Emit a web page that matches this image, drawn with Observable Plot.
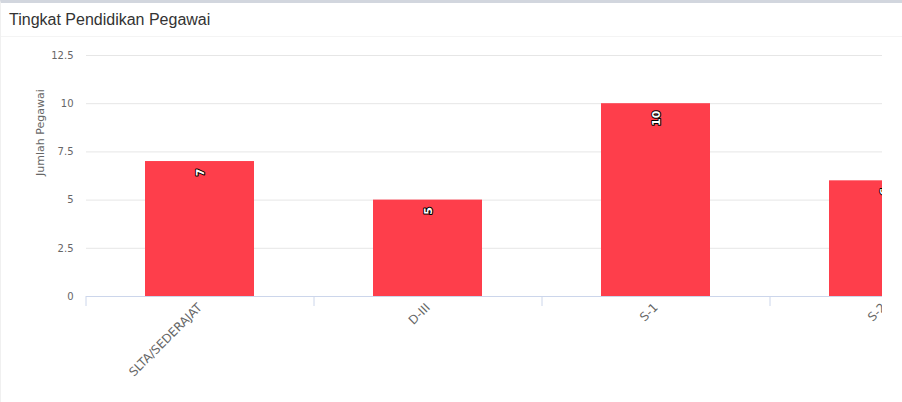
<!DOCTYPE html>
<html>
<head>
<meta charset="utf-8">
<script src="https://cdn.jsdelivr.net/npm/d3@7"></script>
<script src="https://cdn.jsdelivr.net/npm/@observablehq/plot@0.6"></script>
<style>
  html, body { margin: 0; padding: 0; background: #fff; }
  .box { width: 902px; height: 402px; box-sizing: border-box; border-top: 3px solid #d2d6de; border-left: 1px solid #f0f0f0; overflow: hidden; position: relative; }
  .hdr { height: 34px; box-sizing: border-box; border-bottom: 1px solid #f4f4f4; padding: 0 0 0 8px; font-family: "Liberation Sans", Arial, sans-serif; font-size: 16px; color: #333; line-height: 34px; }
  .chartwrap { width: 881px; overflow: hidden; }
  .chartwrap svg { max-width: none !important; width: 1007px !important; height: 365px !important; display: block; }
</style>
</head>
<body>
<div class="box">
  <div class="hdr">Tingkat Pendidikan Pegawai</div>
  <div class="chartwrap" id="chart"></div>
</div>
<script>
const categories = ["SLTA/SEDERAJAT", "D-III", "S-1", "S-2"];
const values = [7, 5, 10, 6];
const yTicks = [0, 2.5, 5, 7.5, 10, 12.5];
const yTitle = "Jumlah Pegawai";

const data = categories.map((c, i) => ({category: c, value: values[i]}));

const W = 1007, H = 365, mL = 85, mR = 10, mT = 18, mB = 106;
const step = (W - mL - mR) / categories.length;

const chart = Plot.plot({
  width: W, height: H,
  marginLeft: mL, marginRight: mR, marginTop: mT, marginBottom: mB,
  style: {fontFamily: "'DejaVu Sans', Verdana, sans-serif", background: "#fff", color: "#666", overflow: "visible", maxWidth: "none"},
  x: {domain: categories, paddingInner: 0.52, paddingOuter: 0.26},
  y: {domain: [0, 12.5]},
  marks: [
    Plot.gridY(yTicks, {stroke: "#e6e6e6", strokeOpacity: 1}),
    Plot.barY(data, {x: "category", y: "value", fill: "#fe3e4b"}),
    Plot.ruleY([0], {stroke: "#ccd6eb", strokeWidth: 1}),
    Plot.axisY(yTicks, {tickSize: 0, tickPadding: 13, fontSize: 10, fill: "#666", label: null, tickFormat: d => String(d)}),
    Plot.text([yTitle], {frameAnchor: "left", rotate: -90, dx: -46, fontSize: 11, fill: "#666"}),
    Plot.axisX({tickSize: 10, stroke: "#ccd6eb", tickFormat: () => "", dx: -step / 2, label: null}),
    Plot.axisX({tickSize: 0, tickPadding: 9, tickRotate: -45, fontSize: 12, fill: "#666", label: null}),
    Plot.text(data, {x: "category", y: "value", text: d => String(d.value), rotate: -90, textAnchor: "end", dy: 7,
      fill: "#fff", stroke: "#000", strokeWidth: 2, fontWeight: "bold", fontSize: 11})
  ]
});
document.getElementById("chart").appendChild(chart);
</script>
</body>
</html>
